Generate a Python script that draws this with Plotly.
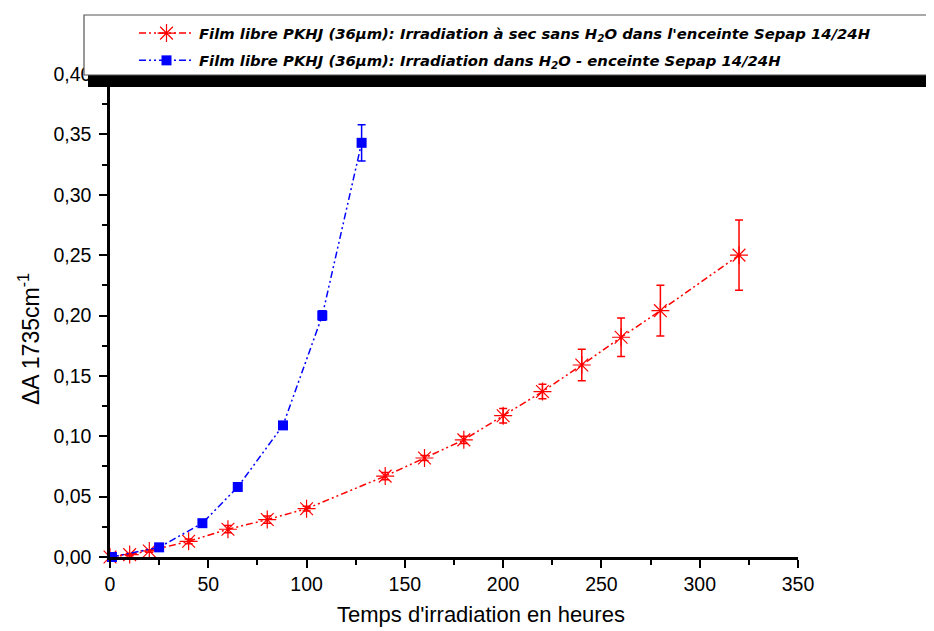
import plotly.graph_objects as go

# ---- data ----
red_x = [0, 10, 20, 40, 60, 80, 100, 140, 160, 180, 200, 220, 240, 260, 280, 320]
red_y = [0.000, 0.002, 0.005, 0.013, 0.023, 0.031, 0.040, 0.067, 0.082, 0.097, 0.117, 0.137, 0.159, 0.182, 0.204, 0.250]
red_err = [0.000, 0.001, 0.001, 0.002, 0.003, 0.003, 0.002, 0.003, 0.002, 0.003, 0.006, 0.006, 0.013, 0.016, 0.021, 0.029]

blue_x = [1, 25, 47, 65, 88, 108, 128]
blue_y = [0.000, 0.008, 0.028, 0.058, 0.109, 0.200, 0.343]
blue_err = [0.000, 0.001, 0.001, 0.001, 0.002, 0.004, 0.015]

red_name = "Film libre PKHJ (36µm): Irradiation à sec sans H<sub>2</sub>O dans l'enceinte Sepap 14/24H"
blue_name = "Film libre PKHJ (36µm): Irradiation dans H<sub>2</sub>O - enceinte Sepap 14/24H"

x_title = "Temps d'irradiation en heures"
y_title = "ΔA 1735cm<sup>-1</sup>"

# ---- layout geometry (pixels, page has an 8px body margin) ----
OFF = 8
W, H = 934, 631
L, T = 110 - OFF, 74 - OFF
R = W - (798 - OFF)
B = H - (557 - OFF)
pw, ph = W - L - R, H - T - B

def px(xref_px):
    return (xref_px - OFF - L) / pw

def py(yref_px):
    return (H - B - (yref_px - OFF)) / ph

dash = "7px,3px,2px,3px,2px,3px"

fig = go.Figure()
fig.add_trace(go.Scatter(
    x=red_x, y=red_y, name=red_name, mode="lines+markers", legendgroup="a",
    line=dict(color="#FF0000", width=1.5, dash=dash),
    marker=dict(symbol="asterisk-open", size=15, color="#FF0000",
                line=dict(color="#FF0000", width=1.2)),
    error_y=dict(type="data", array=red_err, visible=True, color="#FF0000",
                 thickness=1.5, width=4),
    cliponaxis=False,
))
fig.add_trace(go.Scatter(
    x=blue_x, y=blue_y, name=blue_name, mode="lines+markers", legendgroup="b",
    line=dict(color="#0000FF", width=1.5, dash=dash),
    marker=dict(symbol="square", size=10, color="#0000FF"),
    error_y=dict(type="data", array=blue_err, visible=True, color="#0000FF",
                 thickness=1.5, width=4),
    cliponaxis=False,
))

axis_common = dict(
    showline=True, linecolor="black", linewidth=2.5, mirror=False,
    ticks="outside", ticklen=8, tickwidth=2, tickcolor="black",
    showgrid=False, zeroline=False,
    tickfont=dict(family="Liberation Sans, Arial", size=19.5, color="black"),
)

title_font = dict(family="Liberation Sans, Arial", size=22, color="black")

fig.update_layout(
    width=W, height=H,
    margin=dict(l=L, r=R, t=T, b=B, pad=0, autoexpand=False),
    paper_bgcolor="white", plot_bgcolor="white",
    separators=",.",
    showlegend=True,
    legend=dict(
        x=px(134), y=py(17), xanchor="left", yanchor="top",
        bgcolor="rgba(0,0,0,0)", borderwidth=0,
        font=dict(family="DejaVu Sans", size=14.8, color="black", weight="bold", style="italic"),
        itemwidth=55, traceorder="grouped", tracegroupgap=5,
    ),
    xaxis=dict(
        range=[0, 350], dtick=50, tick0=0,
        minor=dict(ticks="outside", ticklen=5, tickwidth=2, tickcolor="black", dtick=25),
        **axis_common,
    ),
    yaxis=dict(
        range=[0, 0.4], dtick=0.05, tick0=0, tickformat=".2f",
        ticklabelstandoff=4,
        minor=dict(ticks="outside", ticklen=5, tickwidth=2, tickcolor="black", dtick=0.025),
        **axis_common,
    ),
    annotations=[
        dict(text=x_title, xref="paper", yref="paper", x=px(481), y=py(614),
             xanchor="center", yanchor="middle", showarrow=False, font=title_font),
        dict(text=y_title, xref="paper", yref="paper", x=px(29), y=py(339),
             xanchor="center", yanchor="middle", showarrow=False, textangle=-90,
             font=dict(family="Liberation Sans, Arial", size=23, color="black")),
    ],
    shapes=[
        # legend shadow
        dict(type="rect", xref="paper", yref="paper",
             x0=px(88), x1=px(950), y0=py(87), y1=py(19),
             fillcolor="black", line=dict(width=0), layer="above"),
        # legend box
        dict(type="rect", xref="paper", yref="paper",
             x0=px(84), x1=px(933), y0=py(75), y1=py(15),
             fillcolor="white", line=dict(color="#555555", width=1.2), layer="above"),
    ],
)

fig.write_html("out.html")
